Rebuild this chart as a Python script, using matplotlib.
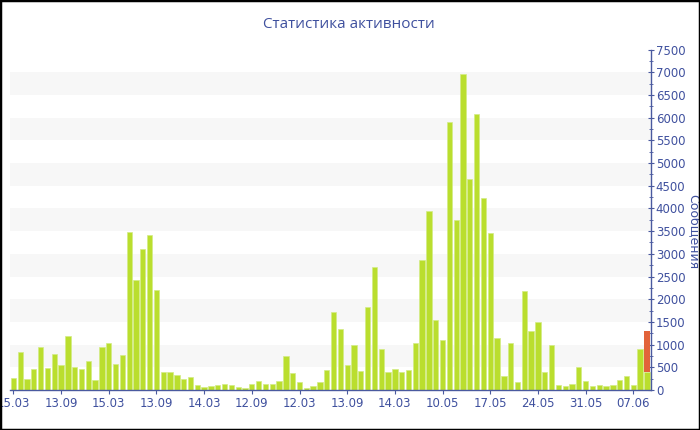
import matplotlib
matplotlib.use('Agg')
import matplotlib.pyplot as plt
from matplotlib.patches import Rectangle
from matplotlib.ticker import MultipleLocator

# messages per day (green), the last day has an extra (orange) part on top
values = [272, 830, 235, 470, 954, 477, 800, 550, 1189, 514,
          462, 646, 228, 947, 1042, 580, 771, 3472, 2422, 3105,
          3406, 2209, 396, 396, 330, 250, 279, 110, 66, 81,
          110, 125, 103, 59, 37, 139, 191, 125, 125, 198,
          741, 374, 169, 51, 81, 183, 448, 1710, 1336, 558,
          984, 418, 1820, 2708, 895, 396, 455, 404, 448, 1035,
          2855, 3949, 1541, 1101, 5910, 3744, 6953, 4641, 6086, 4222,
          3468, 1138, 308, 1028, 176, 2180, 1299, 1497, 404, 984,
          103, 88, 132, 499, 206, 81, 103, 88, 103, 213,
          308, 117, 903, 396]
extra = [0] * (len(values) - 1) + [903]

tick_pos = [0, 7, 14, 21, 28, 35, 42, 49, 56, 63, 70, 77, 84, 91]
tick_labels = ['15.03', '13.09', '15.03', '13.09', '14.03', '12.09', '12.03',
               '13.09', '14.03', '10.05', '17.05', '24.05', '31.05', '07.06']

blue = '#4a5a9f'
text_blue = '#3f509e'

fig = plt.figure(figsize=(7, 4.3), dpi=100)
ax = fig.add_axes([10/700, 40/430, 641/700, 340.5/430])

x = list(range(len(values)))
# light background bands
for lo in range(500, 7500, 1000):
    ax.axhspan(lo, lo + 500, color='#f7f7f7', zorder=0, lw=0)

ax.bar(x, values, width=0.78, color='#bade2e', edgecolor='#d3ec86', linewidth=0.5, zorder=2)
ex_x = [i for i in x if extra[i] > 0]
ax.bar(ex_x, [extra[i] for i in ex_x], bottom=[values[i] for i in ex_x], width=0.78,
       color='#e2633a', linewidth=0, zorder=2)

ax.set_xlim(-0.5, 93.6)
ax.set_ylim(0, 7500)

ax.yaxis.tick_right()
ax.yaxis.set_major_locator(MultipleLocator(500))
ax.yaxis.set_minor_locator(MultipleLocator(250))
ax.tick_params(axis='y', which='major', direction='inout', length=5, color=blue,
               labelcolor=text_blue, labelsize=8.5, pad=1)
ax.tick_params(axis='y', which='minor', direction='inout', length=3, color=blue)
ax.set_xticks(tick_pos)
ax.set_xticklabels(tick_labels)
ax.tick_params(axis='x', direction='out', length=3, color=blue, labelcolor=text_blue,
               labelsize=8.5, pad=2)

for s in ['left', 'top']:
    ax.spines[s].set_visible(False)
for s in ['right', 'bottom']:
    ax.spines[s].set_color(blue)
    ax.spines[s].set_linewidth(1)

fig.text(349/700, 1 - 25/430, 'Статистика активности', ha='center', va='center',
         fontsize=11, color=text_blue, family='Open Sans')
fig.text(693/700, 1 - 232/430, 'Сообщения', ha='center', va='center', rotation=270,
         fontsize=9, color=text_blue)

fig.patches.append(Rectangle((0, 0), 1, 1, transform=fig.transFigure, fill=False,
                             edgecolor='black', linewidth=2.5, zorder=10))

fig.savefig('out.png', dpi=100)
